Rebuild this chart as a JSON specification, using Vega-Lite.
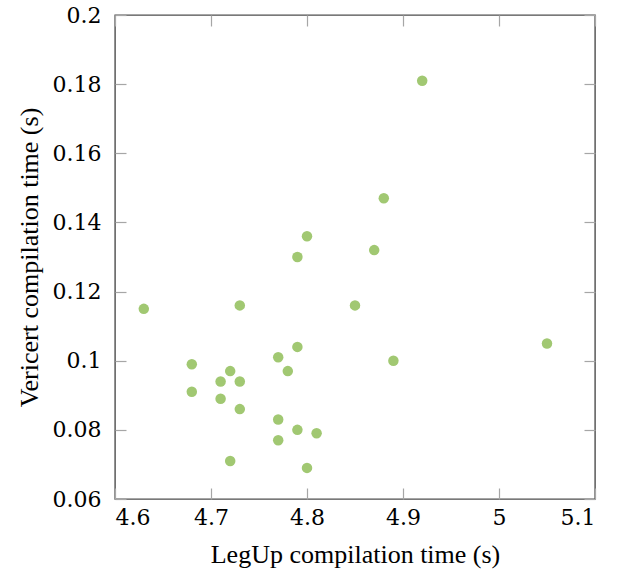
{
  "$schema": "https://vega.github.io/schema/vega-lite/v6.json",
  "width": 480,
  "height": 484,
  "autosize": {"type": "none"},
  "padding": {"left": 115, "top": 15, "right": 34, "bottom": 74},
  "background": "white",
  "config": {
    "view": {"stroke": "#4d4d4d", "strokeWidth": 1.4},
    "axis": {
      "grid": false,
      "domain": false,
      "tickColor": "#a6a6a6",
      "tickWidth": 1.2,
      "tickSize": -11,
      "labelColor": "black",
      "labelFont": "DejaVu Serif",
      "labelFontSize": 22,
      "titleFont": "Liberation Serif",
      "titleFontSize": 26,
      "titleFontWeight": "normal",
      "titleColor": "black"
    }
  },
  "data": {
    "values": [
      {"legup": 4.63, "vericert": 0.115},
      {"legup": 4.92, "vericert": 0.181},
      {"legup": 4.88, "vericert": 0.147},
      {"legup": 4.80, "vericert": 0.136},
      {"legup": 4.79, "vericert": 0.130},
      {"legup": 4.87, "vericert": 0.132},
      {"legup": 4.73, "vericert": 0.116},
      {"legup": 4.85, "vericert": 0.116},
      {"legup": 5.05, "vericert": 0.105},
      {"legup": 4.68, "vericert": 0.099},
      {"legup": 4.77, "vericert": 0.101},
      {"legup": 4.79, "vericert": 0.104},
      {"legup": 4.89, "vericert": 0.100},
      {"legup": 4.72, "vericert": 0.097},
      {"legup": 4.78, "vericert": 0.097},
      {"legup": 4.71, "vericert": 0.094},
      {"legup": 4.73, "vericert": 0.094},
      {"legup": 4.68, "vericert": 0.091},
      {"legup": 4.71, "vericert": 0.089},
      {"legup": 4.73, "vericert": 0.086},
      {"legup": 4.77, "vericert": 0.083},
      {"legup": 4.79, "vericert": 0.080},
      {"legup": 4.81, "vericert": 0.079},
      {"legup": 4.77, "vericert": 0.077},
      {"legup": 4.72, "vericert": 0.071},
      {"legup": 4.80, "vericert": 0.069}
    ]
  },
  "layer": [
    {
      "mark": {"type": "circle", "size": 110, "color": "#a1c872", "opacity": 1},
      "encoding": {
        "x": {"field": "legup", "type": "quantitative", "scale": {"domain": [4.6, 5.1], "nice": false, "zero": false},
          "axis": {"orient": "bottom", "values": [4.6, 4.7, 4.8, 4.9, 5.0, 5.1], "format": "~g", "title": "LegUp compilation time (s)", "labelPadding": 19, "titlePadding": 13}},
        "y": {"field": "vericert", "type": "quantitative", "scale": {"domain": [0.06, 0.2], "nice": false, "zero": false},
          "axis": {"orient": "left", "values": [0.06, 0.08, 0.1, 0.12, 0.14, 0.16, 0.18, 0.2], "format": "~g", "title": "Vericert compilation time (s)", "labelPadding": 25, "titlePadding": 10}}
      }
    },
    {
      "mark": {"type": "circle", "size": 110, "opacity": 0},
      "encoding": {
        "x": {"field": "legup", "type": "quantitative", "scale": {"domain": [4.6, 5.1], "nice": false, "zero": false},
          "axis": {"orient": "top", "values": [4.6, 4.7, 4.8, 4.9, 5.0, 5.1], "labels": false, "title": null}},
        "y": {"field": "vericert", "type": "quantitative", "scale": {"domain": [0.06, 0.2], "nice": false, "zero": false},
          "axis": {"orient": "right", "values": [0.06, 0.08, 0.1, 0.12, 0.14, 0.16, 0.18, 0.2], "labels": false, "title": null}}
      }
    }
  ],
  "resolve": {"axis": {"x": "independent", "y": "independent"}}
}
